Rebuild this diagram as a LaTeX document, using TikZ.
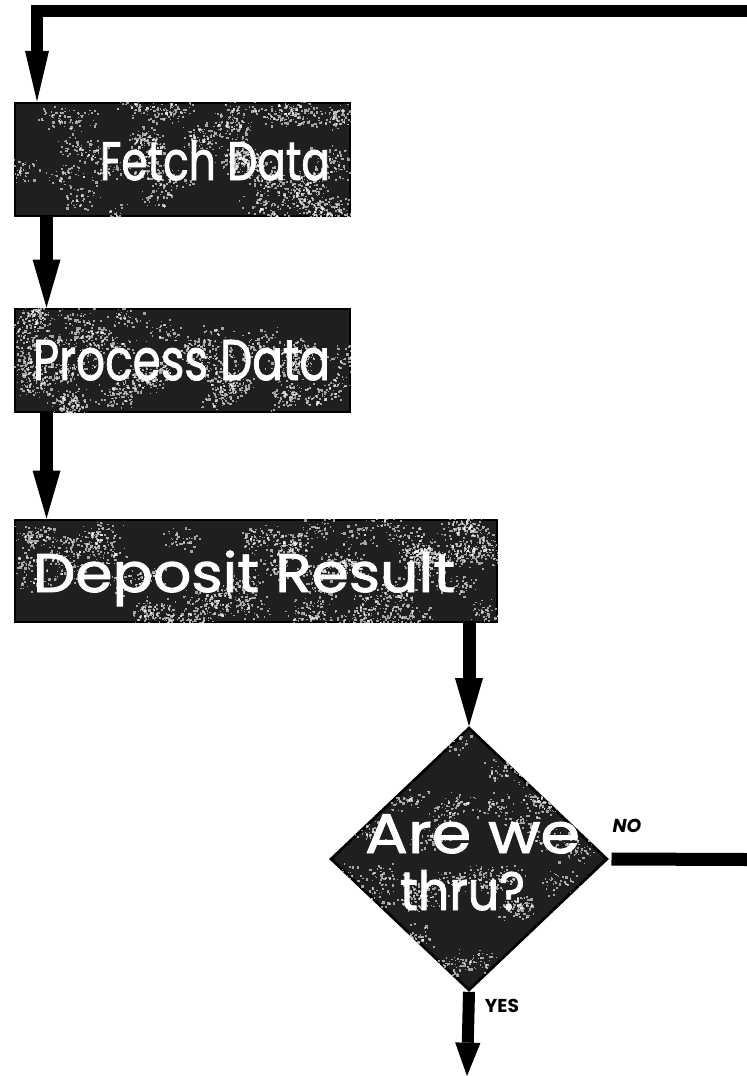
\documentclass[tikz,border=0pt]{standalone}
\usepackage{fontspec}
\setmainfont{Poppins}
\newfontfamily\heavyface{Poppins}[FakeBold=1.6]
\usetikzlibrary{arrows.meta,shapes.geometric}

% speckled grain: clusters of light dots scattered over a dark surface
\newcommand\grain[6]{%
  \foreach \c in {1,...,#5}{%
    \pgfmathsetmacro\cx{#1+rnd*(#3-#1)}%
    \pgfmathsetmacro\cy{#2+rnd*(#4-#2)}%
    \foreach \k in {1,...,#6}{%
      \pgfmathsetmacro\gx{\cx+22*(rnd+rnd-1)}%
      \pgfmathsetmacro\gy{\cy+14*(rnd+rnd-1)}%
      \pgfmathsetmacro\gs{0.8+1.8*rnd}%
      \fill[white,opacity=0.6] (\gx,\gy) rectangle ++(\gs,\gs);
    }}}

\newcommand\fitto[3]{\resizebox{#1}{#2}{#3}}

\begin{document}
\begin{tikzpicture}[x=0.75pt,y=-0.75pt,
  panel/.style={rectangle, draw=black, line width=2.2pt, fill=black!88, inner sep=0pt},
  decision/.style={diamond, draw=black, line width=2pt, fill=black!88, inner sep=0pt},
  caption/.style={text=white, inner sep=0pt, anchor=base, font=\heavyface},
  tag/.style={text=black, inner sep=0pt, font=\bfseries\fontsize{14}{14}\selectfont},
  flow/.style={line width=9.75pt, -{Triangle[length=36pt,width=21pt,line width=0pt]}},
  loopflow/.style={line width=8.5pt, line join=miter, -{Triangle[length=38pt,width=18pt,line width=0pt]}},
  yesflow/.style={line width=9pt, -{Triangle[length=25pt,width=19pt,line width=0pt]}},
  noline/.style={line width=9.75pt}]

\useasboundingbox (0,0) rectangle (747,1076);
\pgfmathsetseed{4711}

% process boxes
\node[panel, minimum width=251.25pt, minimum height=84.75pt] (fetch)   at (182.5,159.5) {};
\node[panel, minimum width=251.25pt, minimum height=77.25pt] (process) at (182.5,360.5) {};
\node[panel, minimum width=361.5pt,  minimum height=76.5pt]  (deposit) at (256,571)     {};
% decision
\node[decision, minimum width=207.75pt, minimum height=197.25pt] (dec) at (469,859) {};

% grain on the boxes
\begin{scope}
  \clip (fetch.north west) rectangle (fetch.south east);
  \grain{15}{103}{350}{216}{48}{40}
\end{scope}
\begin{scope}
  \clip (process.north west) rectangle (process.south east);
  \grain{15}{310}{350}{411}{48}{40}
\end{scope}
\begin{scope}
  \clip (deposit.north west) rectangle (deposit.south east);
  \grain{15}{520}{497}{622}{66}{40}
\end{scope}
\begin{scope}
  \clip (dec.north) -- (dec.east) -- (dec.south) -- (dec.west) -- cycle;
  \grain{330}{727}{607}{990}{56}{40}
\end{scope}

% box texts
\node[caption] (fetchtxt)   at (215,180)   {\fitto{172.5pt}{30pt}{Fetch Data}};
\node[caption] (processtxt) at (181.5,380) {\fitto{222.75pt}{30pt}{Process Data}};
\node[caption] (deposittxt) at (244,592)   {\fitto{316.5pt}{31pt}{Deposit Result}};
\node[caption] (dectxta)    at (472.5,853) {\fitto{161.25pt}{29pt}{Are we}};
\node[caption] (dectxtb)    at (462.5,910) {\fitto{93.75pt}{30pt}{thru?}};

% branch labels
\node[tag, font=\bfseries\itshape\fontsize{14}{14}\selectfont] (notag) at (627,826) {NO};
\node[tag] (yestag) at (502,1006) {YES};

% connectors
\coordinate (loopin) at (747,11);
\coordinate (bend)   at (37,11);
\coordinate (noout)  at (747,859.5);
\coordinate (yesout) at (467,1076);

\draw[loopflow] (loopin) -- (bend) -- (bend |- fetch.north);
\draw[flow] ([xshift=24.75pt]fetch.south west) -- ([xshift=24.75pt]process.north west);
\draw[flow] ([xshift=24.75pt]process.south west) -- ([xshift=24.75pt]deposit.north west);
\draw[flow] (deposit.south -| dec.north) -- (dec.north);
\draw[noline] ([xshift=2pt]dec.east) -- (noout);
\draw[yesflow] (dec.south) -- (yesout);
\end{tikzpicture}
\end{document}
